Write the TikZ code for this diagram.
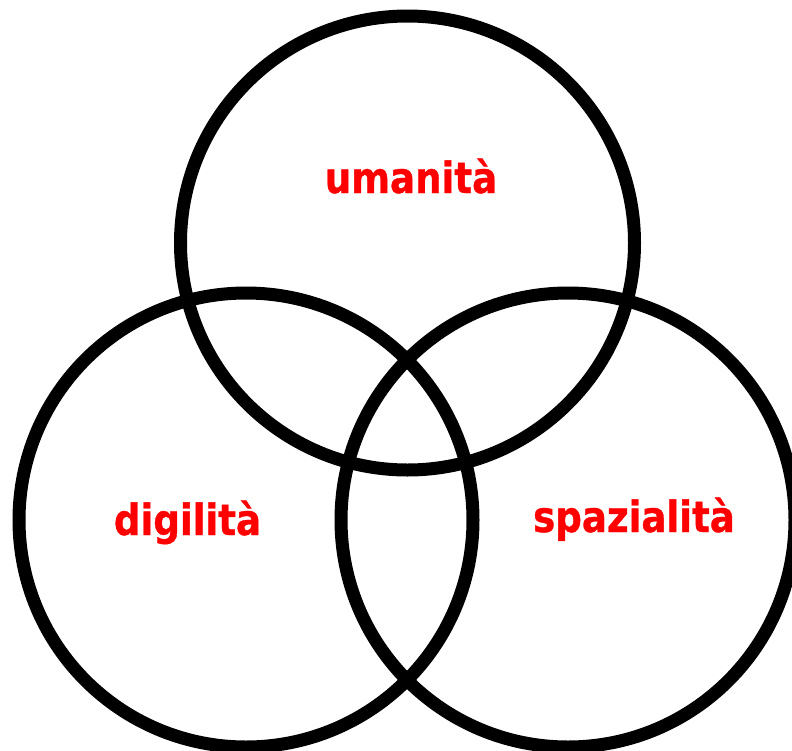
\documentclass[tikz,border=0pt]{standalone}
\usepackage{fontspec}
\newfontfamily\lblfont{DejaVu Sans}[FakeStretch=0.865,FakeBold=0.8]
\begin{document}
\begin{tikzpicture}[x=1pt,y=-1pt]
\tikzset{
  ring/.style={draw=black,line width=13pt},
  lbl/.style={text=red,font=\lblfont\bfseries\fontsize{43}{50}\selectfont,anchor=base,inner sep=0pt}
}
\useasboundingbox (0,0) rectangle (792,750);
\clip (0,0) rectangle (792,750);
\coordinate (ctop) at (407.5,243);
\coordinate (cleft) at (246,520);
\coordinate (cright) at (568,520);
\draw[ring] (ctop) circle[radius=227];
\draw[ring] (cleft) circle[radius=227];
\draw[ring] (cright) circle[radius=227];
\node[lbl] (uman) at (411,193) {umanità};
\node[lbl] (digi) at (187.5,535) {digilità};
\node[lbl] (spaz) at (634,532) {spazialità};
\end{tikzpicture}
\end{document}
